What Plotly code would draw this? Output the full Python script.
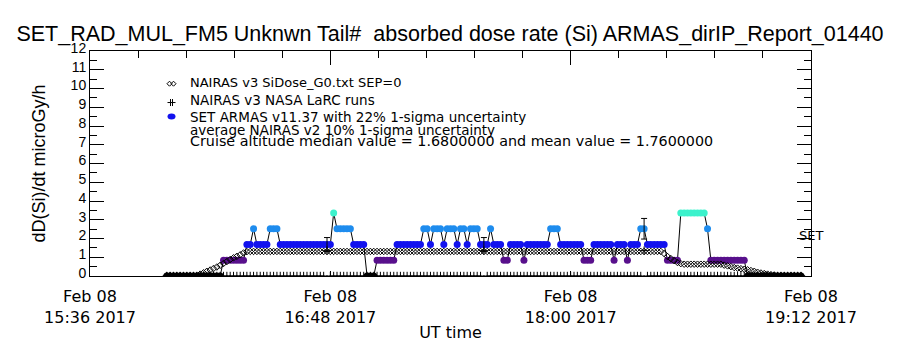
import plotly.graph_objects as go
import pandas as pd

# ---------------- data (one sample per minute, 15:59 .. 19:09 UT) ----------------
first_sample = "2017-02-08 15:59"

armas_values = [
    0, 0, 0, 0, 0, 0, 0, 0, 0, 0, 0, 0, 0, 0, 0, 0, 0,
    0.84, 0.84, 0.84, 0.84, 0.84, 0.84, 0.84,
    1.68, 1.68, 2.52, 1.68, 1.68, 1.68, 1.68, 2.52, 2.52, 2.52,
    1.68, 1.68, 1.68, 1.68, 1.68, 1.68, 1.68, 1.68, 1.68, 1.68, 1.68, 1.68, 1.68, 1.68, 1.68, 1.68,
    3.36, 2.52, 2.52, 2.52, 2.52, 2.52,
    1.68, 1.68, 1.68, 1.68, 0, 0, 0,
    0.84, 0.84, 0.84, 0.84, 0.84, 0.84,
    1.68, 1.68, 1.68, 1.68, 1.68, 1.68, 1.68, 1.68,
    2.52, 2.52, 1.68, 2.52, 2.52, 2.52, 1.68, 2.52, 2.52, 2.52, 1.68, 2.52, 2.52, 1.68,
    2.52, 2.52, 2.52, 1.68, 1.68, 1.68, 2.52, 1.68, 1.68, 1.68,
    0.84, 0.84, 1.68, 1.68, 1.68, 1.68, 0.84,
    1.68, 1.68, 1.68, 1.68, 1.68, 1.68, 1.68, 2.52, 2.52, 2.52,
    1.68, 1.68, 1.68, 1.68, 1.68, 1.68, 1.68, 0.84, 0.84, 0.84,
    1.68, 1.68, 1.68, 1.68, 1.68, 1.68, 0.84, 1.68, 1.68, 1.68, 0.84,
    1.68, 1.68, 1.68, 2.52, 2.52, 1.68, 1.68, 1.68, 1.68, 1.68, 1.68,
    0.84, 0.84, 0.84, 0.84,
    3.36, 3.36, 3.36, 3.36, 3.36, 3.36, 3.36, 3.36, 2.52,
    0.84, 0.84, 0.84, 0.84, 0.84, 0.84, 0.84, 0.84, 0.84, 0.84, 0.84,
    0, 0, 0, 0, 0, 0, 0, 0, 0, 0, 0, 0, 0, 0, 0, 0, 0,
]

nairas_values = [
    0.03, 0.03, 0.03, 0.03, 0.03, 0.03, 0.03, 0.03, 0.03, 0.03,
    0.10, 0.17, 0.25, 0.32, 0.40, 0.48, 0.57, 0.67, 0.77, 0.88, 0.97, 1.05, 1.13, 1.23, 1.30, 1.31,
    1.31, 1.31, 1.31, 1.31, 1.31, 1.31, 1.31, 1.31, 1.31, 1.31,
    1.31, 1.31, 1.31, 1.31, 1.31, 1.31, 1.31, 1.31, 1.31, 1.31,
    1.31, 1.31, 1.31, 1.31, 1.31, 1.31, 1.31, 1.31, 1.31, 1.31,
    1.31, 1.31, 1.31, 1.31, 1.31, 1.31, 1.31, 1.31, 1.31, 1.31,
    1.31, 1.31, 1.31, 1.31, 1.31, 1.31, 1.31, 1.31, 1.31, 1.31,
    1.31, 1.31, 1.31, 1.31, 1.31, 1.31, 1.31, 1.31, 1.31, 1.31,
    1.31, 1.31, 1.31, 1.31, 1.31, 1.31, 1.31, 1.31, 1.31, 1.31,
    1.31, 1.31, 1.31, 1.31, 1.31, 1.31, 1.31, 1.31, 1.31, 1.31,
    1.31, 1.31, 1.31, 1.31, 1.31, 1.31, 1.31, 1.31, 1.31, 1.31,
    1.31, 1.31, 1.31, 1.31, 1.31, 1.31, 1.31, 1.31, 1.31, 1.31,
    1.31, 1.31, 1.31, 1.31, 1.31, 1.31, 1.31, 1.31, 1.31, 1.31,
    1.31, 1.31, 1.31, 1.31, 1.31, 1.31, 1.31, 1.31, 1.31, 1.31,
    1.31, 1.31, 1.31,
    1.20, 1.04, 0.93, 0.82, 0.72, 0.66,
    0.63, 0.63, 0.63, 0.63, 0.63, 0.63, 0.63, 0.63, 0.63, 0.63, 0.63, 0.63,
    0.58, 0.54, 0.50, 0.45, 0.42, 0.39, 0.36, 0.33, 0.29, 0.25, 0.20, 0.16, 0.13, 0.10, 0.07, 0.05,
    0.03, 0.03, 0.03, 0.03, 0.03, 0.03, 0.03, 0.03,
]

larc_values = [
    0, 0, 0, 0, 0, 0, 0, 0, 0, 0, 0, 0, 0, 0, 0, 0, 0, 0, 0, 0,
    0, 0, 0, 0, 0, 0, 0, 0, 0, 0, 0, 0, 0, 0, 0, 0, 0, 0, 0, 0,
    0, 0, 0, 0, 0, 0, 0, 0, 1.35, 0, 0, 0, 0, 0, 0, 0, 0, 0, 0, 0,
    0, 0, 0, 0, 0, 0, 0, 0, 0, 0, 0, 0, 0, 0, 0, 0, 0, 0, 0, 0,
    0, 0, 0, 0, 0, 0, 0, 0, 0, 0, 0, 0, 0, 0, 0, 1.35, 0, 0, 0, 0,
    0, 0, 0, 0, 0, 0, 0, 0, 0, 0, 0, 0, 0, 0, 0, 0, 0, 0, 0, 0,
    0, 0, 0, 0, 0, 0, 0, 0, 0, 0, 0, 0, 0, 0, 0, 0, 0, 0, 0, 0,
    0, 0, 0, 1.35, 0, 0, 0, 0, 0, 0, 0, 0, 0, 0, 0, 0, 0, 0, 0, 0,
    0, 0, 0, 0, 0, 0, 0, 0, 0, 0, 0, 0, 0, 0, 0, 0, 0, 0, 0, 0,
    0, 0, 0, 0, 0, 0, 0, 0, 0, 0, 0,
]

# ARMAS uncertainty bars at the LaRC run times
unc_times = ["2017-02-08 16:47", "2017-02-08 17:34", "2017-02-08 18:22"]
unc_center = [1.68, 1.68, 2.52]
unc_sigma = [0.37, 0.37, 0.55]

x_range = ["2017-02-08 15:36", "2017-02-08 19:12"]
x_tickvals = ["2017-02-08 15:36", "2017-02-08 16:48", "2017-02-08 18:00", "2017-02-08 19:12"]
x_ticktext = ["Feb 08<br>15:36 2017", "Feb 08<br>16:48 2017", "Feb 08<br>18:00 2017", "Feb 08<br>19:12 2017"]

title_text = "SET_RAD_MUL_FM5 Unknwn Tail#  absorbed dose rate (Si) ARMAS_dirIP_Report_01440"
legend_lines = [
    "NAIRAS v3 SiDose_G0.txt SEP=0",
    "NAIRAS v3 NASA LaRC runs",
    "SET ARMAS v11.37 with 22% 1-sigma uncertainty",
    "average NAIRAS v2 10% 1-sigma uncertainty",
    "Cruise altitude median value = 1.6800000 and mean value = 1.7600000",
]

# ---------------- styling ----------------
FONT = "Liberation Sans"
WIDE = "DejaVu Sans"
level_colors = {0: "#000000", 0.84: "#58108c", 1.68: "#1212ee", 2.52: "#1e8cee", 3.36: "#3cf2cc"}
armas_colors = [level_colors[v] for v in armas_values]

times = pd.date_range(first_sample, periods=len(armas_values), freq="1min")

fig = go.Figure()
fig.add_trace(go.Scatter(
    x=times, y=armas_values, mode="lines+markers",
    line=dict(color="black", width=1),
    marker=dict(symbol="circle", size=7, color=armas_colors, line=dict(width=0)),
    showlegend=False))
fig.add_trace(go.Scatter(
    x=times, y=nairas_values, mode="markers",
    marker=dict(symbol="diamond-open", size=5, color="black", line=dict(width=1, color="black")),
    showlegend=False))
fig.add_trace(go.Scatter(
    x=times, y=larc_values, mode="markers",
    marker=dict(symbol="cross-thin-open", size=6, color="black", line=dict(width=1, color="black")),
    showlegend=False))
fig.add_trace(go.Scatter(
    x=pd.to_datetime(unc_times), y=unc_center, mode="markers",
    marker=dict(size=1, color="rgba(0,0,0,0)"),
    error_y=dict(type="data", array=unc_sigma, visible=True, color="black", thickness=1, width=3),
    showlegend=False))
# top time axis (tick marks only)
fig.add_trace(go.Scatter(x=x_range, y=[None, None], xaxis="x2", mode="markers",
                         showlegend=False, hoverinfo="skip"))

L, R, T, B = 90, 811, 51, 278
W, H = R - L, B - T


def xp(px):
    return (px - L) / W


def yp(py):
    return (B - py) / H


annotations = []
legend_y = [82.5, 100.5, 117.5, 131, 141.5]
legend_size = [13, 13.5, 13.5, 13.5, 14.3]
for txt, y, sz in zip(legend_lines, legend_y, legend_size):
    annotations.append(dict(x=xp(188), y=yp(y), xref="paper", yref="paper", text=txt,
                            showarrow=False, xanchor="left", yanchor="middle",
                            font=dict(family=WIDE, size=sz, color="black")))
annotations.append(dict(x=xp(797), y=yp(237), xref="paper", yref="paper", text="SET",
                        showarrow=False, xanchor="left", yanchor="middle",
                        font=dict(family=WIDE, size=13, color="black")))

shapes = [
    dict(type="path", xref="paper", yref="paper", xsizemode="pixel", ysizemode="pixel",
         xanchor=xp(171), yanchor=yp(84),
         path="M-4,0 L-1.5,2.5 L1,0 L-1.5,-2.5 Z M0,0 L2.5,2.5 L5,0 L2.5,-2.5 Z",
         line=dict(color="black", width=1)),
    dict(type="path", xref="paper", yref="paper", xsizemode="pixel", ysizemode="pixel",
         xanchor=xp(171.5), yanchor=yp(102.5),
         path="M-4,-0.5 L4,-0.5 M-1,3 L-1,-4 M1,3 L1,-4",
         line=dict(color="black", width=1)),
    dict(type="circle", xref="paper", yref="paper", xsizemode="pixel", ysizemode="pixel",
         xanchor=xp(171.5), yanchor=yp(117), x0=-4, x1=4, y0=-3, y1=3,
         fillcolor=level_colors[1.68], line=dict(width=0)),
]

fig.update_layout(
    width=900, height=350,
    margin=dict(l=L, r=900 - R, t=T, b=350 - B),
    paper_bgcolor="white", plot_bgcolor="white",
    font=dict(family=FONT, color="black"),
    title=dict(text=title_text, x=0.5, xanchor="center", xref="container",
               y=1 - 33 / 350, yref="container", yanchor="middle",
               font=dict(family=FONT, size=21.5, color="black")),
    annotations=annotations,
    shapes=shapes,
    xaxis=dict(
        type="date", range=x_range, tickvals=x_tickvals, ticktext=x_ticktext,
        ticks="inside", ticklen=5, tickwidth=1, tickcolor="black",
        ticklabelstandoff=6,
        showline=True, linecolor="black", linewidth=1, mirror=True,
        showgrid=False, zeroline=False,
        tickfont=dict(family=WIDE, size=16, color="black"),
        title=dict(text="UT time", font=dict(family=WIDE, size=16, color="black"), standoff=0),
    ),
    xaxis2=dict(
        type="date", range=x_range, overlaying="x", side="top", anchor="y",
        tick0=x_range[0], dtick=72 * 60 * 1000,
        ticks="inside", ticklen=14, tickwidth=1, tickcolor="black", showticklabels=False,
        minor=dict(ticks="inside", ticklen=7, tick0=x_range[0], dtick=14.4 * 60 * 1000, tickcolor="black"),
        showline=False, showgrid=False, zeroline=False,
    ),
    yaxis=dict(
        range=[0, 12], tick0=0, dtick=1,
        ticks="inside", ticklen=14, tickwidth=1, tickcolor="black",
        ticklabelshift=-3,
        minor=dict(ticks="inside", ticklen=7, dtick=0.5, tickcolor="black"),
        showline=True, linecolor="black", linewidth=1, mirror="ticks",
        showgrid=False, zeroline=False,
        tickfont=dict(family=FONT, size=14, color="black"),
        title=dict(text="dD(Si)/dt microGy/h", font=dict(family=FONT, size=18, color="black"), standoff=20),
    ),
)

fig.write_html("out.html")
